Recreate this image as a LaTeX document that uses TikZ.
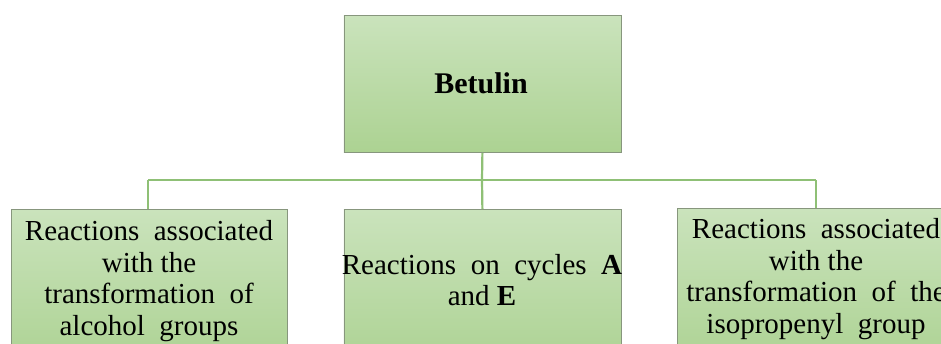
\documentclass[tikz,border=0pt]{standalone}
\usepackage{fontspec}
\setmainfont{Liberation Serif}
\definecolor{boxtop}{RGB}{202,227,188}
\definecolor{boxbot}{RGB}{172,210,146}
\definecolor{boxline}{RGB}{135,150,125}
\definecolor{conn}{RGB}{143,192,118}
\tikzset{
  greenbox/.style={draw=boxline, line width=0.8pt, top color=boxtop, bottom color=boxbot, shading angle=0},
  conline/.style={draw=conn, line width=2.2pt},
  boxtext/.style={align=center, inner sep=0pt, font=\fontsize{29}{31.5}\selectfont},
}
\begin{document}
\begin{tikzpicture}[x=1pt,y={(0pt,-1pt)}]
\useasboundingbox (0,0) rectangle (941,343);
\clip (0,0) rectangle (941,343);
\fill[white] (0,0) rectangle (941,343);
% connectors
\coordinate (hub) at (482,180);
\coordinate (hl) at (148,180);
\coordinate (hr) at (816,180);
% boxes
\node[greenbox, minimum width=277pt, minimum height=137pt, anchor=north west, inner sep=0pt] (betulin) at (343.5,15) {};
\node[greenbox, minimum width=276pt, minimum height=160pt, anchor=north west, inner sep=0pt] (left) at (11,209) {};
\node[greenbox, minimum width=277pt, minimum height=160pt, anchor=north west, inner sep=0pt] (mid) at (343.5,209) {};
\node[greenbox, minimum width=276pt, minimum height=160pt, anchor=north west, inner sep=0pt] (right) at (677,208) {};
\draw[conline] (betulin.south) -- (hub);
\draw[conline] (hl) -- (hr);
\draw[conline] (hl) -- (hl |- left.north);
\draw[conline] (hub) -- (mid.north);
\draw[conline] (hr) -- (hr |- right.north);
% texts
\node[boxtext, font=\fontsize{30}{32}\selectfont\bfseries] (t0) at (481,83) {Betulin};
\node[boxtext] (t1) at (149,281) {Reactions\ \ associated\\with the\\transformation\ \ of\\alcohol\ \ groups};
\node[boxtext] (t2) at (482,280) {Reactions\ \ on\ \ cycles\ \ \textbf{A}\\and \textbf{E}};
\node[boxtext] (t3) at (816,279) {Reactions\ \ associated\\with the\\transformation\ \ of\ \ the\\isopropenyl\ \ group};
\end{tikzpicture}
\end{document}
